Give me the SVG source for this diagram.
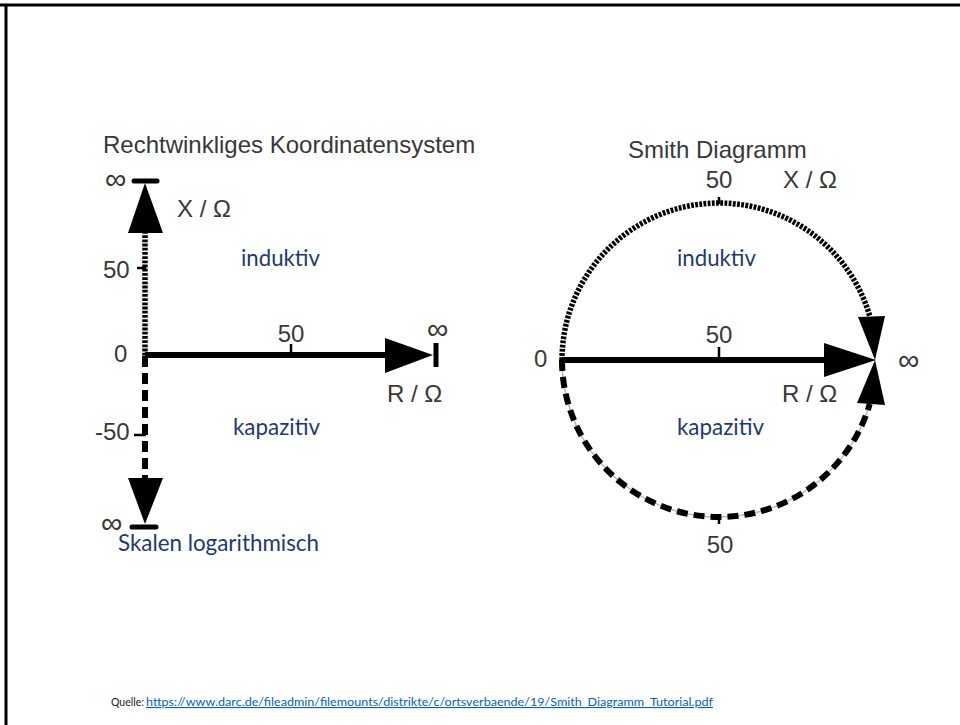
<svg xmlns="http://www.w3.org/2000/svg" width="960" height="725" viewBox="0 0 960 725">
<style>
.g{font-family:"Liberation Sans",Arial,sans-serif;font-size:24px;fill:#383838}
.inf{font-family:"Liberation Sans",Arial,sans-serif;font-size:30px;fill:#383838}
.b{font-family:Lato,"Open Sans",sans-serif;font-size:23px;fill:#1f3a6e}
.ax{stroke:#000;stroke-width:6;fill:none}
.dot{stroke:#000;stroke-width:5.5;fill:none;stroke-dasharray:2.8 1.4}
.dash{stroke:#000;stroke-width:6;fill:none;stroke-dasharray:11 6}
.tk{stroke:#000;stroke-width:2.5}
.bar{stroke:#000;stroke-width:5;stroke-linecap:round}
.ah{fill:#000}
</style>
<rect width="960" height="725" fill="#fff"/>
<g id="frame">
<line x1="0" y1="5" x2="960" y2="5" stroke="#000" stroke-width="3"/>
<line x1="6" y1="4" x2="6" y2="725" stroke="#000" stroke-width="3"/>
</g>
<g id="connectors">
<line class="dot" x1="145" y1="231" x2="145" y2="356"/>
<line class="dash" x1="145" y1="356" x2="145" y2="480"/>
<line class="ax" x1="145" y1="355" x2="392" y2="355"/>
<polygon class="ah" points="128,233 163,233 145,183"/>
<polygon class="ah" points="128,478 163,478 145,524"/>
<polygon class="ah" points="385,338 385,373 433,355"/>
<line class="bar" x1="134" y1="181" x2="157" y2="181"/>
<line class="bar" x1="132" y1="527" x2="156" y2="527"/>
<line x1="436" y1="343" x2="436" y2="367" stroke="#000" stroke-width="5"/>
<line class="tk" x1="137" y1="268" x2="146" y2="268"/>
<line class="tk" x1="134" y1="435" x2="146" y2="435"/>
<line class="tk" x1="291" y1="344" x2="291" y2="356"/>
<path d="M562,360 A157,157 0 0 0 869.7,404" fill="none" stroke="#bbb" stroke-width="1.5"/>
<path class="dash" d="M562,360 A157,157 0 0 0 869.7,404" stroke-width="5" stroke-dasharray="10 8"/>
<path class="dot" d="M562,360 A157,157 0 0 1 869.7,316"/>
<line class="ax" x1="562" y1="360" x2="830" y2="360"/>
<polygon class="ah" points="824,343 824,377 876,360"/>
<polygon class="ah" points="858,317 885,316 875,360"/>
<polygon class="ah" points="857,403 885,405 875,360"/>
<line class="tk" x1="719" y1="347" x2="719" y2="360"/>
<line class="tk" x1="719" y1="197" x2="719" y2="204"/>
<line class="tk" x1="719" y1="516" x2="719" y2="524"/>
</g>
<g id="left-labels">
<text class="g" x="103" y="153">Rechtwinkliges Koordinatensystem</text>
<text class="inf" x="105" y="189">∞</text>
<text class="g" x="177" y="217">X / Ω</text>
<text class="g" x="103" y="278">50</text>
<text class="g" x="114" y="362">0</text>
<text class="g" x="95" y="440">-50</text>
<text class="inf" x="101" y="533">∞</text>
<text class="g" x="291" y="342" text-anchor="middle">50</text>
<text class="inf" x="427" y="339">∞</text>
<text class="g" x="387" y="402">R / Ω</text>
<text class="b" x="241" y="266" textLength="79" lengthAdjust="spacingAndGlyphs">induktiv</text>
<text class="b" x="233" y="435" textLength="87" lengthAdjust="spacingAndGlyphs">kapazitiv</text>
<text class="b" x="118" y="551" textLength="201" lengthAdjust="spacingAndGlyphs">Skalen logarithmisch</text>
</g>
<g id="smith-labels">
<text class="g" x="628" y="158">Smith Diagramm</text>
<text class="g" x="719" y="188" text-anchor="middle">50</text>
<text class="g" x="783" y="188">X / Ω</text>
<text class="g" x="534" y="367">0</text>
<text class="g" x="719" y="343" text-anchor="middle">50</text>
<text class="inf" x="898" y="370">∞</text>
<text class="g" x="782" y="402">R / Ω</text>
<text class="g" x="720" y="553" text-anchor="middle">50</text>
<text class="b" x="677" y="266" textLength="79" lengthAdjust="spacingAndGlyphs">induktiv</text>
<text class="b" x="677" y="435" textLength="87" lengthAdjust="spacingAndGlyphs">kapazitiv</text>
</g>
<g id="source">
<text x="111" y="706" font-family="Lato,'Open Sans',sans-serif" font-size="11" fill="#222" textLength="33" lengthAdjust="spacingAndGlyphs">Quelle:</text>
<text x="146" y="706" font-family="Lato,'Open Sans',sans-serif" font-size="11" fill="#0563c1" text-decoration="underline" textLength="567" lengthAdjust="spacingAndGlyphs">https://www.darc.de/fileadmin/filemounts/distrikte/c/ortsverbaende/19/Smith_Diagramm_Tutorial.pdf</text>
</g>
</svg>
